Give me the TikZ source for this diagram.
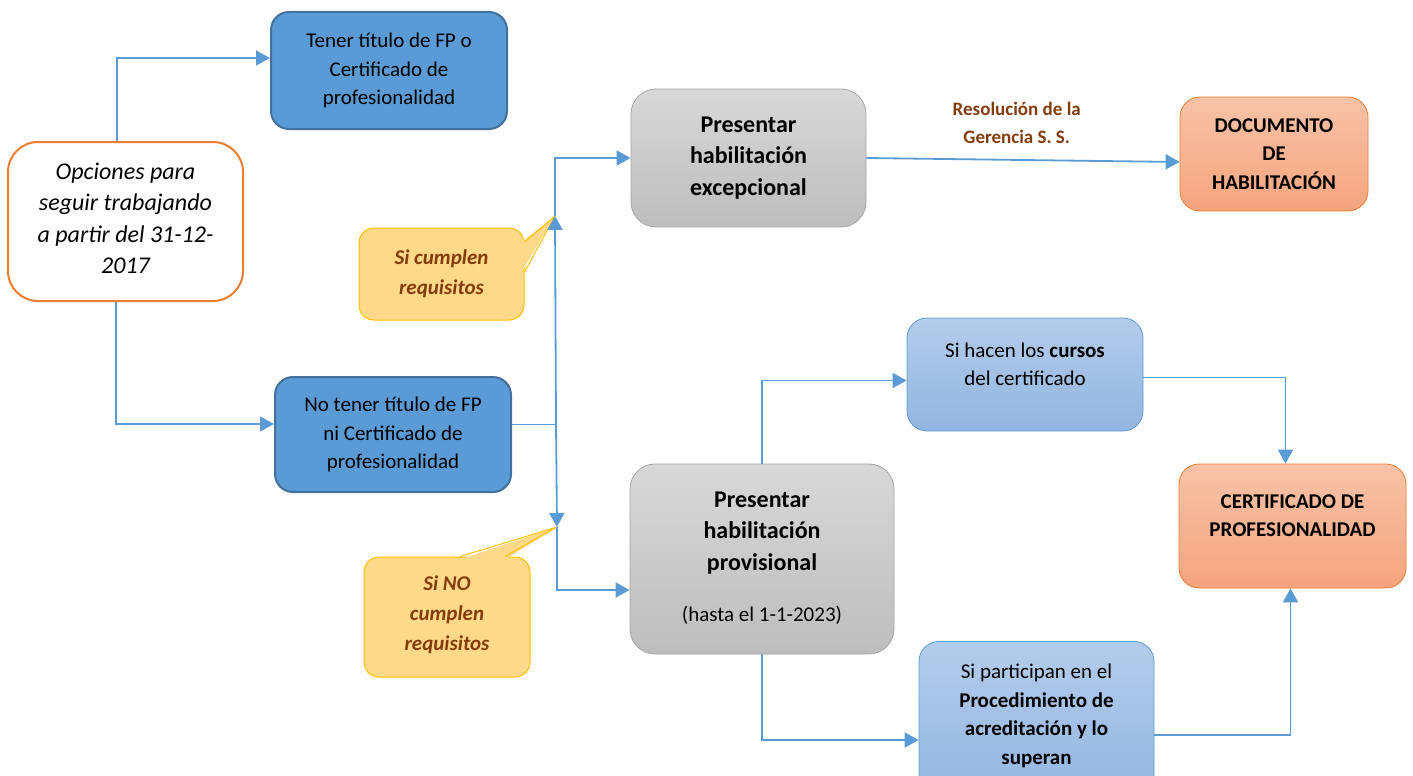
\documentclass[tikz,border=0pt]{standalone}
\usepackage{fontspec}
\setmainfont{Carlito}
\usetikzlibrary{arrows.meta,calc}
\definecolor{lineblue}{HTML}{5B9BD5}
\definecolor{darkfill}{HTML}{5B9BD5}
\definecolor{darkborder}{HTML}{41719C}
\definecolor{orangeborder}{HTML}{ED7D31}
\definecolor{orangetop}{HTML}{F8C3A8}
\definecolor{orangebot}{HTML}{F4A47E}
\definecolor{graytop}{HTML}{D8D8D8}
\definecolor{graybot}{HTML}{BDBDBD}
\definecolor{grayborder}{HTML}{A5A5A5}
\definecolor{lbtop}{HTML}{B3CCEA}
\definecolor{lbbot}{HTML}{92B5E0}
\definecolor{callfill}{HTML}{FFD98A}
\definecolor{callborder}{HTML}{FFC000}
\definecolor{brown}{HTML}{843C0C}
\begin{document}
\begin{tikzpicture}[x=1pt,y=-1pt,
  base/.style={align=flush center, inner sep=2pt, font=\fontsize{21}{28.5}\selectfont},
  darkbox/.style={base, rounded corners=18pt, fill=darkfill, draw=darkborder, line width=2pt, text width=220pt},
  startbox/.style={base, rounded corners=30pt, fill=white, draw=orangeborder, line width=2pt, text width=215pt,
    font=\itshape\fontsize{24}{31.3}\selectfont},
  graybox/.style={base, rounded corners=25pt, top color=graytop, bottom color=graybot, draw=grayborder, line width=0.8pt,
    text width=225pt, font=\bfseries\fontsize{24}{31.5}\selectfont},
  orangebox/.style={base, rounded corners=20pt, top color=orangetop, bottom color=orangebot, draw=orangeborder, line width=0.8pt,
    text width=210pt, font=\bfseries\fontsize{21}{28.5}\selectfont},
  lbbox/.style={base, rounded corners=20pt, top color=lbtop, bottom color=lbbot, draw=lineblue, line width=0.8pt, text width=220pt},
  callbox/.style={base, rounded corners=15pt, fill=callfill, draw=callborder, line width=1pt, text width=150pt,
    text=brown, font=\bfseries\itshape\fontsize{21}{30}\selectfont},
  conn/.style={draw=lineblue, line width=1.8pt},
  arr/.style={conn, -{Triangle[length=14pt,width=15pt]}},
  lbl/.style={text=brown, align=flush center, font=\bfseries\fontsize{19}{28}\selectfont}
]
\useasboundingbox (0,0) rectangle (1413,776);
\clip (0,0) rectangle (1413,776);

% nodes
\node[startbox, minimum width=235pt, minimum height=159pt] (opc) at (125.5,221.5)
  {Opciones para\\seguir trabajando\\a partir del 31-12-\\2017\\[-25pt]\mbox{}};
\node[darkbox, minimum width=236pt, minimum height=117pt] (tener) at (389,70.5)
  {Tener título de FP o\\Certificado de\\profesionalidad};
\node[darkbox, minimum width=236pt, minimum height=115pt] (notener) at (393,434.5)
  {No tener título de FP\\ni Certificado de\\profesionalidad};
\node[graybox, minimum width=235pt, minimum height=138pt] (exc) at (748.5,158)
  {Presentar\\habilitación\\excepcional};
\node[orangebox, minimum width=188pt, minimum height=114pt, text width=170pt] (doc) at (1274,154)
  {DOCUMENTO\\DE\\HABILITACIÓN};
\node[graybox, minimum width=264pt, minimum height=190pt] (prov) at (762,559)
  {Presentar\\habilitación\\provisional\\[20pt]{\mdseries\fontsize{21}{28}\selectfont (hasta el 1-1-2023)}\\[-27pt]\mbox{}};
\node[lbbox, minimum width=236pt, minimum height=113pt] (cursos) at (1025,374.5)
  {Si hacen los \textbf{cursos}\\del certificado\\[-8pt]\mbox{}};
\node[orangebox, minimum width=227pt, minimum height=124pt] (cert) at (1292.5,526)
  {CERTIFICADO DE\\PROFESIONALIDAD\\[-8pt]\mbox{}};
\node[lbbox, minimum width=235pt, minimum height=165pt, anchor=north] (partic) at (1036.5,641)
  {Si participan en el\\\textbf{Procedimiento de}\\\textbf{acreditación y lo}\\\textbf{superan}\\[-9pt]\mbox{}};

% callouts
\node[callbox, minimum width=165pt, minimum height=92pt] (cump) at (441.5,274)
  {Si cumplen\\requisitos\\[-26pt]\mbox{}};
\node[callbox, minimum width=166pt, minimum height=120pt] (nocump) at (447,617)
  {Si NO\\cumplen\\requisitos\\[-22pt]\mbox{}};

\coordinate (up) at (555,216);
\coordinate (dn) at (557,527);
\coordinate (j) at (556,424);

\fill[callfill] ($(cump.east)+(-3,-32)$) -- (up) -- ($(cump.east)+(-3,-2)$) -- cycle;
\draw[callborder, line width=1pt, line join=round] ($(cump.east)+(0,-32)$) -- (up) -- ($(cump.east)+(0,-2)$);
\fill[callfill] ($(nocump.north)+(13,3)$) -- (dn) -- ($(nocump.north)+(58,3)$) -- cycle;
\draw[callborder, line width=1pt, line join=round] ($(nocump.north)+(13,0)$) -- (dn) -- ($(nocump.north)+(58,0)$);

% connectors
\draw[arr] ($(opc.north)+(-8.5,0)$) |- ($(tener.west)+(0,-12.5)$);
\draw[arr] ($(opc.south)+(-9.5,0)$) |- ($(notener.west)+(0,-10.5)$);
\draw[conn, line width=1pt] ($(notener.east)+(0,-10.5)$) -- (j);
\draw[arr] (j) -- (up);
\draw[arr] (up) |- (exc.west);
\draw[arr] (j) -- (dn);
\draw[arr] (dn) |- ($(prov.west)+(0,31)$);
\draw[arr] (exc.east) -- node[lbl, above=12pt, pos=0.48] (res) {Resolución de la\\Gerencia S. S.} ($(doc.west)+(0,8)$);
\draw[arr] (prov.north) |- ($(cursos.west)+(0,6)$);
\draw[arr] (prov.south) |- ($(partic.north west)+(0,99)$);
\draw[arr] ($(cursos.east)+(0,3)$) -| ($(cert.north)+(-7,0)$);
\draw[arr] ($(partic.north east)+(0,94)$) -| ($(cert.south)+(-2,0)$);
\end{tikzpicture}
\end{document}
